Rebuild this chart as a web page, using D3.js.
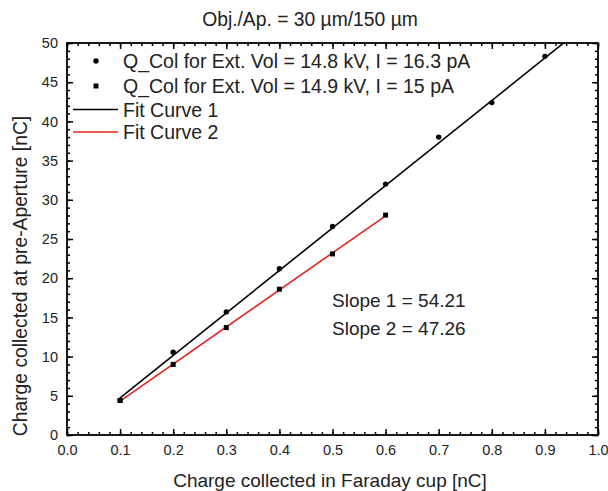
<!DOCTYPE html>
<html><head><meta charset="utf-8">
<script src="https://cdn.jsdelivr.net/npm/d3@7"></script>
<style>body{margin:0;background:#fff;} text{font-family:"Liberation Sans",Arial,sans-serif;}</style>
</head><body>
<script>
const xs1 = [0.1,0.2,0.3,0.4,0.5,0.6,0.7,0.8,0.9];
const ys1 = [4.45,10.55,15.7,21.2,26.6,32.0,38.0,42.4,48.3];
const xs2 = [0.1,0.2,0.3,0.4,0.5,0.6];
const ys2 = [4.4,9.0,13.7,18.6,23.1,28.05];
const fit1 = {slope:54.21, intercept:-0.7, x0:0.1, x1:1.0};
const fit2 = {slope:47.26, intercept:-0.4, x0:0.1, x1:0.6};
const xTicks = [0,0.1,0.2,0.3,0.4,0.5,0.6,0.7,0.8,0.9,1.0];
const yTicks = [0,5,10,15,20,25,30,35,40,45,50];
const legendLabels = ["Q_Col for Ext. Vol = 14.8 kV, I = 16.3 pA","Q_Col for Ext. Vol = 14.9 kV, I = 15 pA","Fit Curve 1","Fit Curve 2"];
const slopeLabels = ["Slope 1 = 54.21","Slope 2 = 47.26"];
const title = "Obj./Ap. = 30 µm/150 µm";

const W=608,H=491;
const m={l:67,r:598,t:43,b:435};
const svg=d3.select("body").append("svg").attr("width",W).attr("height",H);
const x=d3.scaleLinear().domain([0,1]).range([m.l,m.r]);
const y=d3.scaleLinear().domain([0,50]).range([m.b,m.t]);

svg.append("defs").append("clipPath").attr("id","clip").append("rect")
  .attr("x",m.l).attr("y",m.t).attr("width",m.r-m.l).attr("height",m.b-m.t);

const xMinor=d3.range(0,1.0001,0.02), yMinor=d3.range(0,50.001,1);
function styleAxis(g){g.select(".domain").remove();g.selectAll("line").attr("stroke","#000").attr("stroke-width",1.5);}
// bottom
svg.append("g").attr("transform",`translate(0,${m.b})`).call(d3.axisBottom(x).tickValues(xMinor).tickSize(-3).tickFormat("")).call(styleAxis);
svg.append("g").attr("transform",`translate(0,${m.b})`).call(d3.axisBottom(x).tickValues(xTicks).tickSize(-6).tickPadding(10).tickFormat(d3.format(".1f"))).call(styleAxis)
  .selectAll("text").attr("font-size",14.5).attr("fill","#222");
// top
svg.append("g").attr("transform",`translate(0,${m.t})`).call(d3.axisTop(x).tickValues(xMinor).tickSize(-3).tickFormat("")).call(styleAxis);
svg.append("g").attr("transform",`translate(0,${m.t})`).call(d3.axisTop(x).tickValues(xTicks).tickSize(-6).tickFormat("")).call(styleAxis);
// left
svg.append("g").attr("transform",`translate(${m.l},0)`).call(d3.axisLeft(y).tickValues(yMinor).tickSize(-3).tickFormat("")).call(styleAxis);
svg.append("g").attr("transform",`translate(${m.l},0)`).call(d3.axisLeft(y).tickValues(yTicks).tickSize(-6).tickPadding(9)).call(styleAxis)
  .selectAll("text").attr("font-size",14.5).attr("fill","#222");
// right
svg.append("g").attr("transform",`translate(${m.r},0)`).call(d3.axisRight(y).tickValues(yMinor).tickSize(-3).tickFormat("")).call(styleAxis);
svg.append("g").attr("transform",`translate(${m.r},0)`).call(d3.axisRight(y).tickValues(yTicks).tickSize(-6).tickFormat("")).call(styleAxis);

svg.append("rect").attr("x",m.l).attr("y",m.t).attr("width",m.r-m.l).attr("height",m.b-m.t)
  .attr("fill","none").attr("stroke","#000").attr("stroke-width",1.8);

const plot=svg.append("g").attr("clip-path","url(#clip)");
[[fit1,"#000"],[fit2,"#e8221c"]].forEach(([f,c])=>{
  plot.append("line").attr("x1",x(f.x0)).attr("y1",y(f.slope*f.x0+f.intercept))
    .attr("x2",x(f.x1)).attr("y2",y(f.slope*f.x1+f.intercept)).attr("stroke",c).attr("stroke-width",1.6);
});
xs1.forEach((v,i)=>plot.append("circle").attr("cx",x(v)).attr("cy",y(ys1[i])).attr("r",2.7).attr("fill","#000"));
xs2.forEach((v,i)=>plot.append("rect").attr("x",x(v)-2.5).attr("y",y(ys2[i])-2.5).attr("width",5).attr("height",5).attr("fill","#000"));

// legend
const ly=[61,86,109.5,132];
svg.append("circle").attr("cx",96).attr("cy",ly[0]).attr("r",2.7).attr("fill","#000");
svg.append("rect").attr("x",93.5).attr("y",ly[1]-2.5).attr("width",5).attr("height",5).attr("fill","#000");
svg.append("line").attr("x1",73).attr("x2",118).attr("y1",ly[2]).attr("y2",ly[2]).attr("stroke","#000").attr("stroke-width",1.6);
svg.append("line").attr("x1",73).attr("x2",118).attr("y1",ly[3]).attr("y2",ly[3]).attr("stroke","#e8221c").attr("stroke-width",1.6);
legendLabels.forEach((t,i)=>svg.append("text").attr("x",123).attr("y",ly[i]).attr("dy","0.36em").attr("font-size",19.5).attr("fill","#222").text(t));

slopeLabels.forEach((t,i)=>svg.append("text").attr("x",332).attr("y",300.5+i*28).attr("dy","0.36em").attr("font-size",19).attr("fill","#222").text(t));

svg.append("text").attr("x",310).attr("y",19).attr("dy","0.36em").attr("text-anchor","middle").attr("font-size",19.3).attr("fill","#222").text(title);
svg.append("text").attr("x",330).attr("y",480).attr("dy","0.36em").attr("text-anchor","middle").attr("font-size",19).attr("fill","#222").text("Charge collected in Faraday cup [nC]");
svg.append("text").attr("transform",`translate(20,276) rotate(-90)`).attr("dy","0.36em").attr("text-anchor","middle").attr("font-size",19.3).attr("fill","#222").text("Charge collected at pre-Aperture [nC]");
</script>
</body></html>
